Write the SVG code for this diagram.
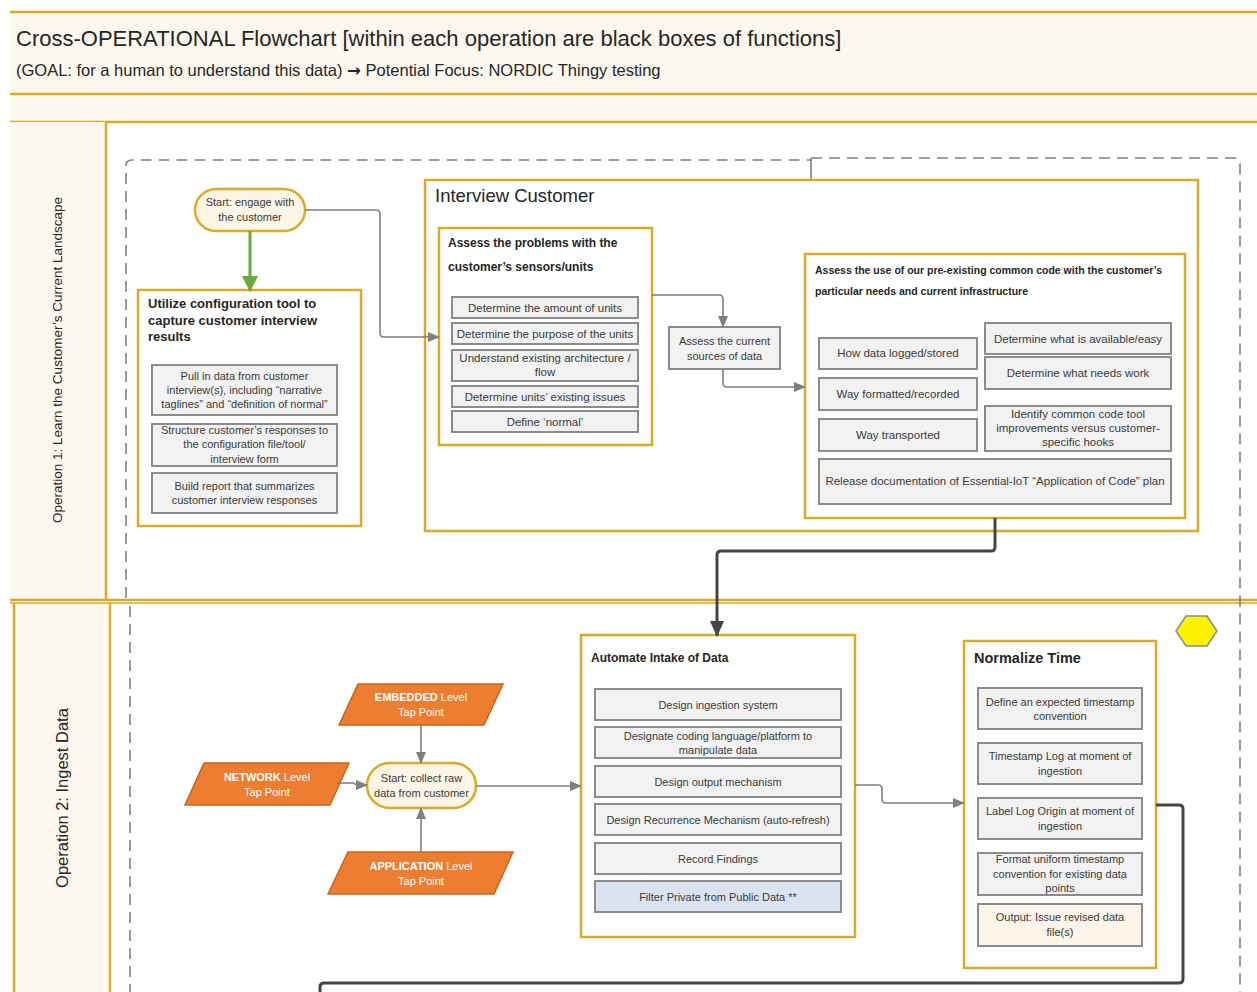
<svg xmlns="http://www.w3.org/2000/svg" width="1257" height="992" viewBox="0 0 1257 992">
<style>
  .ff{font-family:"Liberation Sans",Arial,sans-serif}
  .gold{fill:#ffffff;stroke:#d9ab2b;stroke-width:2.5}
  .sub{fill:#f2f2f2;stroke:#8c8c8c;stroke-width:2}
  .st{font-family:"Liberation Sans",Arial,sans-serif;font-size:11px;fill:#3a3a3a;text-anchor:middle}
  .st2{font-size:11.5px}
  .hd{font-family:"Liberation Sans",Arial,sans-serif;font-weight:bold;fill:#262626}
  .lane{font-family:"Liberation Sans",Arial,sans-serif;fill:#262626;text-anchor:middle}
  .par{fill:#ed7d31;stroke:#c8641e;stroke-width:1.5}
  .pt{font-family:"Liberation Sans",Arial,sans-serif;font-size:11px;fill:#ffffff;text-anchor:middle}
  .term{fill:#fdf6e6;stroke:#d9ab2b;stroke-width:2.5}
  .gc{fill:none;stroke:#7f7f7f;stroke-width:1.6}
  .dc{fill:none;stroke:#4a4440;stroke-width:3}
  .dash{fill:none;stroke:#7f7f7f;stroke-width:1.6;stroke-dasharray:11 7}
  .gl{stroke:#d9ab2b;stroke-width:2.5;fill:none}
</style>
<defs>
  <marker id="ag" markerUnits="userSpaceOnUse" markerWidth="12" markerHeight="10" refX="11" refY="5" orient="auto">
    <path d="M0,0 L12,5 L0,10 z" fill="#7f7f7f"/>
  </marker>
  <marker id="ad" markerUnits="userSpaceOnUse" markerWidth="16" markerHeight="14" refX="15" refY="7" orient="auto">
    <path d="M0,0 L16,7 L0,14 z" fill="#4a4440"/>
  </marker>
  <marker id="agr" markerUnits="userSpaceOnUse" markerWidth="16" markerHeight="16" refX="15" refY="8" orient="auto">
    <path d="M0,0 L16,8 L0,16 z" fill="#6aaa3e"/>
  </marker>
</defs>

<rect width="1257" height="992" fill="#ffffff"/>

<!-- Title band -->
<g id="title">
  <rect x="10" y="12" width="1247" height="110" fill="#fdf8ef"/>
  <line x1="10" y1="12" x2="1257" y2="12" class="gl"/>
  <line x1="10" y1="94" x2="1257" y2="94" class="gl"/>
  <line x1="10" y1="122" x2="1257" y2="122" class="gl"/>
  <text x="16" y="46" class="ff" font-size="22" fill="#262626">Cross-OPERATIONAL Flowchart [within each operation are black boxes of functions]</text>
  <text x="16" y="76" class="ff" font-size="16.5" fill="#262626">(GOAL: for a human to understand this data) <tspan font-family="DejaVu Sans, sans-serif" font-weight="bold">→</tspan> Potential Focus: NORDIC Thingy testing</text>
</g>

<!-- Lanes -->
<g id="lane1">
  <rect x="10" y="122" width="96" height="478" fill="#fdf8ef"/>
  <line x1="106" y1="122" x2="106" y2="600" class="gl"/>
  <line x1="10" y1="600" x2="1257" y2="600" class="gl"/>
  <text class="lane" font-size="13.5" transform="translate(62,360) rotate(-90)">Operation 1: Learn the Customer’s Current Landscape</text>
</g>
<g id="lane2">
  <rect x="14" y="603" width="96" height="389" fill="#fdf8ef"/>
  <line x1="10" y1="603" x2="1257" y2="603" stroke="#d9ab2b" stroke-width="1.5"/>
  <line x1="14" y1="603" x2="14" y2="992" class="gl"/>
  <line x1="110" y1="603" x2="110" y2="992" class="gl"/>
  <text class="lane" font-size="16.5" transform="translate(68,798) rotate(-90)">Operation 2: Ingest Data</text>
</g>

<!-- Dashed container -->
<g id="container">
  <path class="dash" d="M126,598 V166 Q126,160 132,160 H811"/>
  <path class="dash" d="M130,606 V992"/>
  <path class="dash" d="M811,158 H1234 Q1240,158 1240,164 V992"/>
  <line x1="811" y1="158" x2="811" y2="180" stroke="#7f7f7f" stroke-width="1.6"/>
</g>

<!-- Start: engage -->
<g id="start-engage">
  <rect x="195" y="189" width="110" height="42" rx="21" class="term"/>
  <text class="st" x="250" y="206">Start: engage with</text>
  <text class="st" x="250" y="221">the customer</text>
</g>

<!-- Utilize configuration tool -->
<g id="utilize">
  <rect x="138" y="290" width="223" height="236" class="gold"/>
  <text class="hd" font-size="13" x="148" y="308">Utilize configuration tool to</text>
  <text class="hd" font-size="13" x="148" y="325">capture customer interview</text>
  <text class="hd" font-size="13" x="148" y="341">results</text>
  <rect x="152" y="365" width="185" height="50" class="sub"/>
  <text class="st" x="244.5" y="380">Pull in data from customer</text>
  <text class="st" x="244.5" y="394">interview(s), including “narrative</text>
  <text class="st" x="244.5" y="408">taglines” and “definition of normal”</text>
  <rect x="152" y="424" width="185" height="42" class="sub"/>
  <text class="st" x="244.5" y="434">Structure customer’s responses to</text>
  <text class="st" x="244.5" y="448">the configuration file/tool/</text>
  <text class="st" x="244.5" y="463">interview form</text>
  <rect x="152" y="473" width="185" height="40" class="sub"/>
  <text class="st" x="244.5" y="490">Build report that summarizes</text>
  <text class="st" x="244.5" y="504">customer interview responses</text>
</g>

<!-- Interview Customer -->
<g id="interview">
  <rect x="425" y="180" width="773" height="351" class="gold"/>
  <text class="ff" font-size="18.5" fill="#262626" x="435" y="202">Interview Customer</text>
</g>

<g id="assess-problems">
  <rect x="439" y="228" width="213" height="217" class="gold"/>
  <text class="hd" font-size="12" x="448" y="247">Assess the problems with the</text>
  <text class="hd" font-size="12" x="448" y="271">customer’s sensors/units</text>
  <rect x="452" y="297" width="186" height="21" class="sub"/>
  <text class="st st2" x="545" y="311.5">Determine the amount of units</text>
  <rect x="452" y="323" width="186" height="21" class="sub"/>
  <text class="st st2" x="545" y="337.5">Determine the purpose of the units</text>
  <rect x="452" y="350" width="186" height="31" class="sub"/>
  <text class="st st2" x="545" y="362">Understand existing architecture /</text>
  <text class="st st2" x="545" y="376">flow</text>
  <rect x="452" y="386" width="186" height="21" class="sub"/>
  <text class="st st2" x="545" y="400.5">Determine units’ existing issues</text>
  <rect x="452" y="411" width="186" height="21" class="sub"/>
  <text class="st st2" x="545" y="425.5">Define ‘normal’</text>
</g>

<g id="assess-sources">
  <rect x="669" y="327" width="111" height="42" class="sub"/>
  <text class="st" x="724.5" y="345">Assess the current</text>
  <text class="st" x="724.5" y="360">sources of data</text>
</g>

<g id="assess-use">
  <rect x="805" y="254" width="380" height="264" class="gold"/>
  <text class="hd" font-size="10.5" x="815" y="274">Assess the use of our pre-existing common code with the customer’s</text>
  <text class="hd" font-size="10.5" x="815" y="295">particular needs and current infrastructure</text>
  <rect x="819" y="338" width="158" height="31" class="sub"/>
  <text class="st st2" x="898" y="357">How data logged/stored</text>
  <rect x="819" y="378" width="158" height="32" class="sub"/>
  <text class="st st2" x="898" y="398">Way formatted/recorded</text>
  <rect x="819" y="419" width="158" height="32" class="sub"/>
  <text class="st st2" x="898" y="439">Way transported</text>
  <rect x="985" y="323" width="186" height="31" class="sub"/>
  <text class="st st2" x="1078" y="342.5">Determine what is available/easy</text>
  <rect x="985" y="357" width="186" height="32" class="sub"/>
  <text class="st st2" x="1078" y="377">Determine what needs work</text>
  <rect x="985" y="406" width="186" height="45" class="sub"/>
  <text class="st st2" x="1078" y="418">Identify common code tool</text>
  <text class="st st2" x="1078" y="432">improvements versus customer-</text>
  <text class="st st2" x="1078" y="446">specific hooks</text>
  <rect x="819" y="459" width="352" height="45" class="sub"/>
  <text class="st st2" x="995" y="485">Release documentation of Essential-IoT “Application of Code” plan</text>
</g>

<!-- Operation 2 -->
<g id="embedded">
  <polygon points="358,684 503,684 484,725 339,725" class="par"/>
  <text class="pt" x="421" y="701"><tspan font-weight="bold">EMBEDDED</tspan> Level</text>
  <text class="pt" x="421" y="716">Tap Point</text>
</g>
<g id="network">
  <polygon points="204,763 349,763 330,805 185,805" class="par"/>
  <text class="pt" x="267" y="781"><tspan font-weight="bold">NETWORK</tspan> Level</text>
  <text class="pt" x="267" y="796">Tap Point</text>
</g>
<g id="application">
  <polygon points="348,852 513,852 494,894 328,894" class="par"/>
  <text class="pt" x="421" y="870"><tspan font-weight="bold">APPLICATION</tspan> Level</text>
  <text class="pt" x="421" y="885">Tap Point</text>
</g>
<g id="start-collect">
  <rect x="367" y="763" width="109" height="45" rx="22.5" class="term"/>
  <text class="st" x="421.5" y="782">Start: collect raw</text>
  <text class="st" x="421.5" y="797">data from customer</text>
</g>

<g id="automate">
  <rect x="581" y="635" width="274" height="302" class="gold"/>
  <text class="hd" font-size="12" x="591" y="662">Automate Intake of Data</text>
  <rect x="595" y="689" width="246" height="31" class="sub"/>
  <text class="st" x="718" y="708.5">Design ingestion system</text>
  <rect x="595" y="727" width="246" height="31" class="sub"/>
  <text class="st" x="718" y="740">Designate coding language/platform to</text>
  <text class="st" x="718" y="754">manipulate data</text>
  <rect x="595" y="766" width="246" height="31" class="sub"/>
  <text class="st" x="718" y="785.5">Design output mechanism</text>
  <rect x="595" y="804" width="246" height="31" class="sub"/>
  <text class="st" x="718" y="823.5">Design Recurrence Mechanism (auto-refresh)</text>
  <rect x="595" y="843" width="246" height="31" class="sub"/>
  <text class="st" x="718" y="862.5">Record Findings</text>
  <rect x="595" y="881" width="246" height="31" fill="#dae3ef" stroke="#8c8c8c" stroke-width="2"/>
  <text class="st" x="718" y="900.5">Filter Private from Public Data **</text>
</g>

<g id="normalize">
  <rect x="964" y="641" width="192" height="327" class="gold"/>
  <text class="hd" font-size="14.5" x="974" y="663">Normalize Time</text>
  <rect x="978" y="688" width="164" height="41" class="sub"/>
  <text class="st" x="1060" y="706">Define an expected timestamp</text>
  <text class="st" x="1060" y="720">convention</text>
  <rect x="978" y="743" width="164" height="41" class="sub"/>
  <text class="st" x="1060" y="760">Timestamp Log at moment of</text>
  <text class="st" x="1060" y="775">ingestion</text>
  <rect x="978" y="798" width="164" height="41" class="sub"/>
  <text class="st" x="1060" y="815">Label Log Origin at moment of</text>
  <text class="st" x="1060" y="830">ingestion</text>
  <rect x="978" y="853" width="164" height="42" class="sub"/>
  <text class="st" x="1060" y="863">Format uniform timestamp</text>
  <text class="st" x="1060" y="878">convention for existing data</text>
  <text class="st" x="1060" y="892">points</text>
  <rect x="978" y="904" width="164" height="42" fill="#fdf4ea" stroke="#8c8c8c" stroke-width="2"/>
  <text class="st" x="1060" y="921">Output: Issue revised data</text>
  <text class="st" x="1060" y="936">file(s)</text>
</g>

<g id="hexagon">
  <polygon points="1176,631 1186,616 1207,616 1217,631 1207,646 1186,646" fill="#fff200" stroke="#8c8c8c" stroke-width="1.5"/>
</g>

<!-- Connectors -->
<g id="connectors">
  <path d="M250,231 V291" fill="none" stroke="#6aaa3e" stroke-width="3" marker-end="url(#agr)"/>
  <path class="gc" d="M305,210 H376 Q380,210 380,214 V333 Q380,337 384,337 H439" marker-end="url(#ag)"/>
  <path class="gc" d="M652,295 H719 Q723,295 723,299 V327" marker-end="url(#ag)"/>
  <path class="gc" d="M723,369 V383 Q723,387 727,387 H805" marker-end="url(#ag)"/>
  <path class="dc" d="M995,518 V547 Q995,551 991,551 H721 Q717,551 717,555 V636" marker-end="url(#ad)"/>
  <path class="gc" d="M421,725 V763" marker-end="url(#ag)"/>
  <path class="gc" d="M421,852 V808" marker-end="url(#ag)"/>
  <path class="gc" d="M337,783 H353 L357,785 H367" marker-end="url(#ag)"/>
  <path class="gc" d="M476,786 H581" marker-end="url(#ag)"/>
  <path class="gc" d="M855,785 H878 Q882,785 882,789 V799 Q882,803 886,803 H964" marker-end="url(#ag)"/>
  <path class="dc" d="M1156,805 H1179 Q1183,805 1183,809 V979 Q1183,983 1179,983 H324 Q320,983 320,987 V992"/>
</g>
</svg>
